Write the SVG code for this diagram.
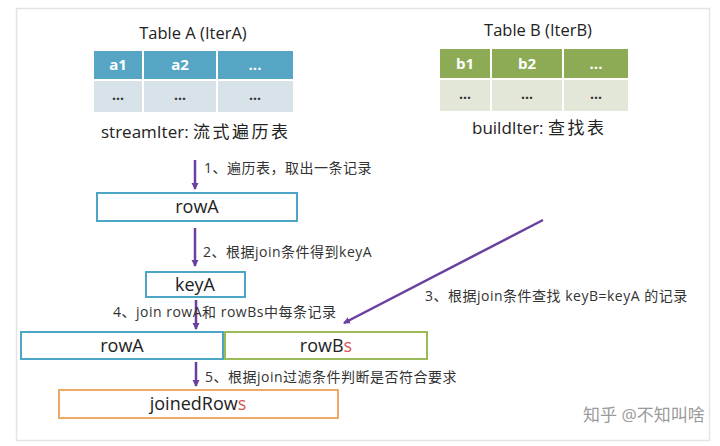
<svg xmlns="http://www.w3.org/2000/svg" width="720" height="446" viewBox="0 0 720 446">
<style>
.t{font-family:"Open Sans","Liberation Sans","Noto Sans CJK SC",sans-serif;fill:#222}
.title{font-size:16.5px;text-anchor:middle}
.hd{font-size:15px;font-weight:bold;fill:#fff;text-anchor:middle}
.cell{font-size:14px;font-weight:bold;fill:#333;text-anchor:middle}
.lbl{font-size:14px;letter-spacing:0.5px;fill:#333}
.box{font-size:18px;text-anchor:middle}
.arr{stroke:#6a3fa0;stroke-width:2.5;fill:none;marker-end:url(#ah)}
</style>
<defs>
<marker id="ah" markerWidth="8" markerHeight="8" refX="6" refY="4" orient="auto" markerUnits="userSpaceOnUse">
<path d="M0,0.5 L7,4 L0,7.5 Z" fill="#6a3fa0"/>
</marker>
</defs>
<rect width="720" height="446" fill="#fff"/>
<rect x="16.5" y="8.5" width="693" height="432" fill="none" stroke="#e4e4e4" stroke-width="1.5"/>

<g id="tableA">
<text class="t title" x="193" y="39">Table A (IterA)</text>
<rect x="94" y="51" width="48" height="28" fill="#56a5c4"/>
<rect x="144" y="51" width="72" height="28" fill="#56a5c4"/>
<rect x="218" y="51" width="75" height="28" fill="#56a5c4"/>
<rect x="94" y="81" width="48" height="31" fill="#d7e2e9"/>
<rect x="144" y="81" width="72" height="31" fill="#d7e2e9"/>
<rect x="218" y="81" width="75" height="31" fill="#d7e2e9"/>
<text class="t hd" x="118" y="70">a1</text>
<text class="t hd" x="180" y="70">a2</text>
<text class="t hd" x="255" y="70">...</text>
<text class="t cell" x="118" y="100">...</text>
<text class="t cell" x="180" y="100">...</text>
<text class="t cell" x="255" y="100">...</text>
<text class="t" x="101" y="138" font-size="17">streamIter: <tspan letter-spacing="2.5">流式遍历表</tspan></text>
</g>

<g id="tableB">
<text class="t title" x="538" y="36">Table B (IterB)</text>
<rect x="440" y="49" width="50" height="29" fill="#8dab55"/>
<rect x="492" y="49" width="70" height="29" fill="#8dab55"/>
<rect x="564" y="49" width="64" height="29" fill="#8dab55"/>
<rect x="440" y="80" width="50" height="31" fill="#e3e7d7"/>
<rect x="492" y="80" width="70" height="31" fill="#e3e7d7"/>
<rect x="564" y="80" width="64" height="31" fill="#e3e7d7"/>
<text class="t hd" x="465" y="69">b1</text>
<text class="t hd" x="527" y="69">b2</text>
<text class="t hd" x="596" y="69">...</text>
<text class="t cell" x="465" y="99">...</text>
<text class="t cell" x="527" y="99">...</text>
<text class="t cell" x="596" y="99">...</text>
<text class="t" x="472" y="134" font-size="17">buildIter: <tspan letter-spacing="2.5">查找表</tspan></text>
</g>

<g id="rowA1">
<rect x="97" y="193" width="200" height="28" fill="#fff" stroke="#4ea6c6" stroke-width="2"/>
<text class="t box" x="197" y="213">rowA</text>
</g>

<g id="keyA">
<rect x="146" y="272" width="99" height="25" fill="#fff" stroke="#4ea6c6" stroke-width="2"/>
<text class="t box" x="195" y="291">keyA</text>
</g>

<g id="rowA2">
<rect x="21" y="332" width="202" height="27" fill="#fff" stroke="#4ea6c6" stroke-width="2"/>
<text class="t box" x="122" y="352">rowA</text>
</g>

<g id="rowBs">
<rect x="225" y="332" width="202" height="27" fill="#fff" stroke="#9bbb59" stroke-width="2"/>
<text class="t box" x="326" y="352">rowB<tspan fill="#d9534f">s</tspan></text>
</g>

<g id="joinedRows">
<rect x="59" y="390" width="279" height="28" fill="#fff" stroke="#f0a868" stroke-width="2"/>
<text class="t box" x="198" y="410">joinedRow<tspan fill="#d9534f">s</tspan></text>
</g>

<g id="connectors">
<line class="arr" x1="195" y1="160" x2="195" y2="189"/>
<line class="arr" x1="195" y1="228" x2="195" y2="266"/>
<line class="arr" x1="196" y1="300" x2="196" y2="329"/>
<line class="arr" x1="543" y1="220" x2="344" y2="323"/>
<line class="arr" x1="196" y1="362" x2="196" y2="386"/>
</g>

<g id="labels">
<text class="t lbl" x="204" y="173">1、遍历表，取出一条记录</text>
<text class="t lbl" x="203" y="257">2、根据join条件得到keyA</text>
<text class="t lbl" x="425" y="301">3、根据join条件查找 keyB=keyA 的记录</text>
<text class="t lbl" x="113" y="317">4、join rowA和 rowBs中每条记录</text>
<text class="t lbl" x="205" y="382">5、根据join过滤条件判断是否符合要求</text>
</g>

<text class="t" x="583" y="421" font-size="17" style="fill:#9a9a9a">知乎 @不知叫啥</text>
</svg>
